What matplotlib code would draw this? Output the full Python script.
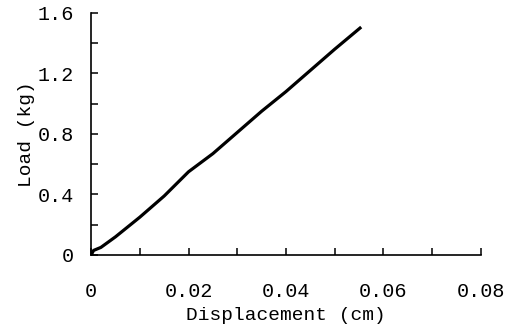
import numpy as np
import matplotlib.pyplot as plt
from matplotlib.ticker import MultipleLocator, FuncFormatter

plt.rcParams['font.family'] = ['Liberation Mono', 'DejaVu Sans Mono']

displacement = [0.0, 0.0005, 0.002, 0.005, 0.01, 0.015, 0.02, 0.025, 0.03,
                0.035, 0.04, 0.045, 0.05, 0.0552]
load = [0.0, 0.03, 0.05, 0.12, 0.25, 0.39, 0.55, 0.67, 0.81,
        0.95, 1.08, 1.22, 1.36, 1.50]

fig = plt.figure(figsize=(5.12, 3.32), dpi=100)
ax = fig.add_axes([0.178, 0.232, 0.761, 0.729])

ax.plot(displacement, load, color='black', lw=2.3)

ax.set_xlim(0, 0.08)
ax.set_ylim(0, 1.6)
ax.spines['top'].set_visible(False)
ax.spines['right'].set_visible(False)
ax.spines['left'].set_linewidth(1.2)
ax.spines['bottom'].set_linewidth(1.2)

ax.xaxis.set_major_locator(MultipleLocator(0.02))
ax.xaxis.set_minor_locator(MultipleLocator(0.01))
ax.yaxis.set_major_locator(MultipleLocator(0.4))
ax.yaxis.set_minor_locator(MultipleLocator(0.2))

ax.xaxis.set_major_formatter(FuncFormatter(lambda v, p: '0' if abs(v) < 1e-9 else f'{v:.2f}'))
ax.yaxis.set_major_formatter(FuncFormatter(lambda v, p: '0' if abs(v) < 1e-9 else f'{v:.1f}'))

ax.tick_params(which='both', direction='in', length=5, width=1.1, labelsize=14.5)
ax.tick_params(axis='x', which='major', pad=19.5)
ax.tick_params(axis='y', which='major', pad=12.5)

ax.set_xlabel('Displacement (cm)', fontsize=14, labelpad=4)
ax.set_ylabel('Load (kg)', fontsize=14, labelpad=2)

fig.savefig('out.png', dpi=100)
